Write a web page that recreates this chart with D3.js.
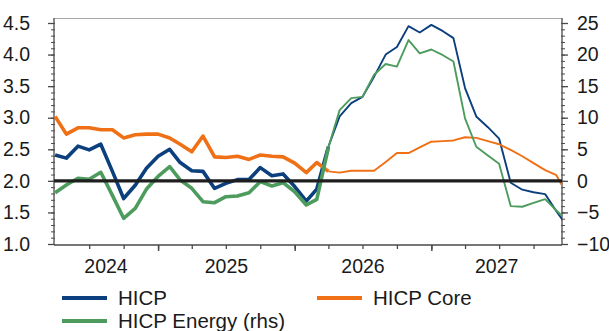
<!DOCTYPE html>
<html>
<head>
<meta charset="utf-8">
<script src="https://cdn.jsdelivr.net/npm/d3@7"></script>
<style>
  body { margin: 0; background: #fff; }
  svg { display: block; }
  text { font-family: "Liberation Sans", Arial, sans-serif; fill: #1a1a1a; }
</style>
</head>
<body>
<svg id="chart" width="609" height="331"></svg>
<script>
// Monthly observations, April 2024 to January 2028
const months = d3.timeMonth.range(new Date(2024, 3, 1), new Date(2028, 1, 1));

// HICP, y/y % (left axis)
const hicp = [2.41, 2.36, 2.55, 2.49, 2.58, 2.15, 1.72, 1.93, 2.20, 2.39,
              2.50, 2.29, 2.16, 2.15, 1.88, 1.96, 2.02, 2.02, 2.21, 2.08,
              2.11, 1.91, 1.68, 1.87, 2.54, 3.02, 3.23, 3.33, 3.65, 4.00,
              4.12, 4.45, 4.35, 4.47, 4.37, 4.26, 3.47, 3.02, 2.85, 2.67,
              1.97, 1.86, 1.82, 1.79, 1.52, 1.26];

// HICP Core, y/y % (left axis)
const hicpCore = [3.02, 2.74, 2.84, 2.84, 2.81, 2.81, 2.68, 2.73, 2.74, 2.74,
                  2.68, 2.58, 2.46, 2.71, 2.38, 2.37, 2.39, 2.34, 2.41, 2.39,
                  2.38, 2.28, 2.13, 2.29, 2.15, 2.13, 2.16, 2.16, 2.16, 2.30,
                  2.44, 2.44, 2.53, 2.62, 2.63, 2.64, 2.69, 2.68, 2.63, 2.58,
                  2.49, 2.39, 2.28, 2.17, 2.09, 1.75];

// HICP Energy, y/y % (right axis)
const hicpEnergy = [-1.87, -0.66, 0.41, 0.25, 1.36, -2.3, -5.93, -4.35, -1.3, 0.7,
                    2.24, 0.14, -1.18, -3.3, -3.46, -2.51, -2.4, -1.87, -0.13, -0.81,
                    -0.29, -1.72, -3.82, -2.92, 5.3, 11.2, 13.1, 13.3, 16.8, 18.5,
                    18.1, 22.3, 20.2, 20.8, 19.9, 18.9, 9.9, 5.4, 4.0, 2.7,
                    -4.0, -4.1, -3.5, -2.9, -4.7, -6.4];

// Index of the last outturn; projections follow it
const lastActual = 24;

const leftTicks = [1.0, 1.5, 2.0, 2.5, 3.0, 3.5, 4.0, 4.5];
const rightTicks = [-10, -5, 0, 5, 10, 15, 20, 25];
const yearLabels = ["2024", "2025", "2026", "2027"];

const seriesNames = ["HICP", "HICP Core", "HICP Energy (rhs)"];
const colors = { hicp: "#0c3f7d", core: "#f07016", energy: "#4d9c5e" };

const svg = d3.select("#chart");
const L = 54, R = 562, T = 18, B = 245;

const x = d3.scaleTime()
  .domain([new Date(2024, 2, 29), new Date(2027, 11, 16)])
  .range([L, R]);
const yL = d3.scaleLinear().domain([1, 4.5]).range([244, 23]);
const yR = d3.scaleLinear().domain([-10, 25]).range([244, 23]);

svg.append("defs").append("clipPath").attr("id", "plot-clip")
  .append("rect").attr("x", L).attr("y", T).attr("width", R - L).attr("height", B - T);

// frame top edge
svg.append("line").attr("x1", L).attr("x2", R).attr("y1", T + 0.5).attr("y2", T + 0.5)
  .attr("stroke", "#a8a8a8").attr("stroke-width", 1.2);

const fs = 19.5;
const legendFs = 20.5;
const axisColor = "#4a4a4a";

// left axis: minor ticks every 0.1, majors every 0.5
const leftMinor = d3.range(10, 46).map(d => d / 10);
const gLm = svg.append("g").attr("transform", `translate(${L},0)`)
  .call(d3.axisLeft(yL).tickValues(leftMinor).tickSize(3).tickFormat(""));
gLm.select(".domain").remove();
gLm.selectAll(".tick line").attr("stroke", axisColor).attr("x2", -3).attr("x1", 1);
const gL = svg.append("g").attr("transform", `translate(${L},0)`)
  .call(d3.axisLeft(yL).tickValues(leftTicks).tickSize(6).tickPadding(18)
    .tickFormat(d3.format(".1f")));
gL.select(".domain").remove();
gL.selectAll(".tick line").attr("stroke", axisColor).attr("stroke-width", 1.3);
gL.selectAll(".tick text").style("font-size", fs + "px").attr("fill", "#1a1a1a")
  .attr("font-family", null);

// right axis: minor ticks every 1, majors every 5
const rightMinor = d3.range(-10, 26);
const gRm = svg.append("g").attr("transform", `translate(${R},0)`)
  .call(d3.axisRight(yR).tickValues(rightMinor).tickSize(3).tickFormat(""));
gRm.select(".domain").remove();
gRm.selectAll(".tick line").attr("stroke", axisColor).attr("x1", -1).attr("x2", 3);
const gR = svg.append("g").attr("transform", `translate(${R},0)`)
  .call(d3.axisRight(yR).tickValues(rightTicks).tickSize(6).tickPadding(9));
gR.select(".domain").remove();
gR.selectAll(".tick line").attr("stroke", axisColor).attr("stroke-width", 1.3);
gR.selectAll(".tick text").style("font-size", fs + "px").attr("fill", "#1a1a1a")
  .attr("font-family", null);

// bottom axis: quarterly minor ticks, yearly majors
const quarters = d3.timeMonth.every(3).range(new Date(2024, 6, 1), new Date(2028, 0, 1));
const gBm = svg.append("g").attr("transform", `translate(0,${B})`)
  .call(d3.axisBottom(x).tickValues(quarters).tickSize(4).tickFormat(""));
gBm.select(".domain").remove();
gBm.selectAll(".tick line").attr("stroke", axisColor).attr("stroke-width", 1.3);
const years = d3.timeYear.range(new Date(2025, 0, 1), new Date(2028, 0, 1));
const gBM = svg.append("g").attr("transform", `translate(0,${B})`)
  .call(d3.axisBottom(x).tickValues(years).tickSize(6).tickFormat(""));
gBM.select(".domain").remove();
gBM.selectAll(".tick line").attr("stroke", axisColor).attr("stroke-width", 1.5);

// year labels centred on the visible part of each year
svg.append("g").selectAll("text").data(yearLabels).join("text")
  .attr("x", d => {
    const a = Math.max(x(new Date(+d, 0, 1)), L);
    const b = Math.min(x(new Date(+d + 1, 0, 1)), R);
    return (a + b) / 2;
  })
  .attr("y", 273)
  .attr("text-anchor", "middle")
  .style("font-size", fs + "px")
  .text(d => d);

// axis spines
svg.append("line").attr("x1", L).attr("x2", L).attr("y1", T).attr("y2", B)
  .attr("stroke", axisColor).attr("stroke-width", 1.3);
svg.append("line").attr("x1", R).attr("x2", R).attr("y1", T).attr("y2", B)
  .attr("stroke", axisColor).attr("stroke-width", 1.3);
svg.append("line").attr("x1", L).attr("x2", R).attr("y1", B).attr("y2", B)
  .attr("stroke", axisColor).attr("stroke-width", 1.3);

// series lines: thick for outturns, thin for projections
const plot = svg.append("g").attr("clip-path", "url(#plot-clip)");
function drawSeries(values, scale, color) {
  const pts = months.map((m, i) => [m, values[i], i]);
  const line = d3.line().x(d => x(d[0])).y(d => scale(d[1]));
  plot.append("path").datum(pts.filter(d => d[2] >= lastActual))
    .attr("d", line).attr("fill", "none").attr("stroke", color)
    .attr("stroke-width", 1.9).attr("stroke-linejoin", "round");
  plot.append("path").datum(pts.filter(d => d[2] <= lastActual))
    .attr("d", line).attr("fill", "none").attr("stroke", color)
    .attr("stroke-width", 3.6).attr("stroke-linejoin", "round");
}
drawSeries(hicp, yL, colors.hicp);
drawSeries(hicpCore, yL, colors.core);
drawSeries(hicpEnergy, yR, colors.energy);

// 2% reference line
svg.append("line").attr("x1", L).attr("x2", R).attr("y1", yL(2)).attr("y2", yL(2))
  .attr("stroke", "#1e1e1e").attr("stroke-width", 3.2);

// legend
const legendItems = [
  { name: seriesNames[0], color: colors.hicp, x: 62, y: 298 },
  { name: seriesNames[1], color: colors.core, x: 317, y: 298 },
  { name: seriesNames[2], color: colors.energy, x: 62, y: 321 }
];
const lg = svg.append("g").selectAll("g").data(legendItems).join("g");
lg.append("line").attr("x1", d => d.x).attr("x2", d => d.x + 45)
  .attr("y1", d => d.y).attr("y2", d => d.y)
  .attr("stroke", d => d.color).attr("stroke-width", 4);
lg.append("text").attr("x", d => d.x + 56).attr("y", d => d.y + 7)
  .style("font-size", legendFs + "px").text(d => d.name);
</script>
</body>
</html>
